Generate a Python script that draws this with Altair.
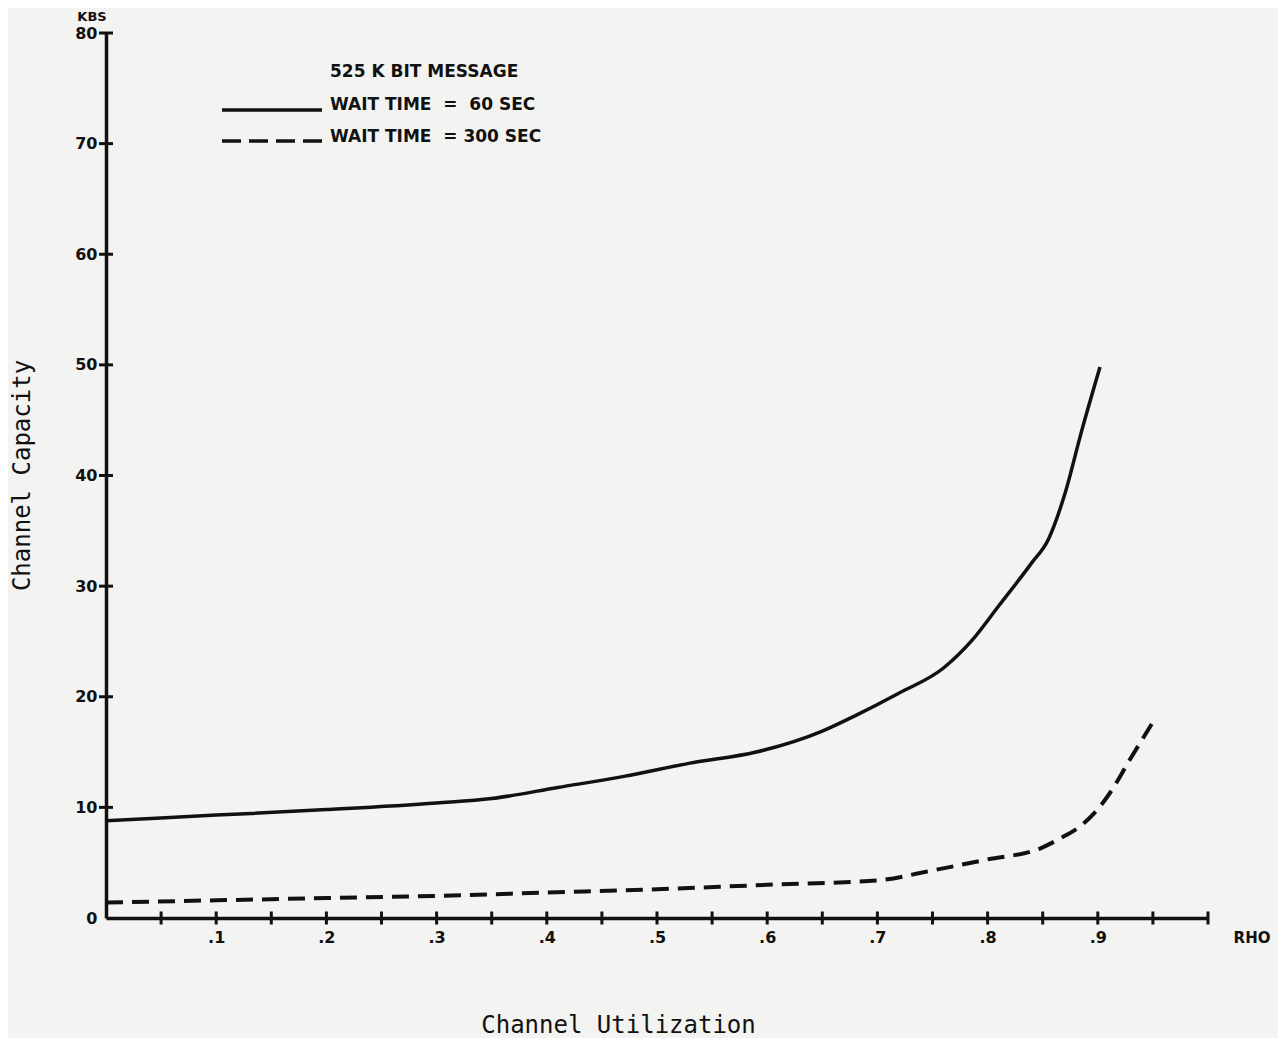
import altair as alt
import pandas as pd

# ---- data ----
rho_60 = [0, 0.1, 0.2, 0.3, 0.35, 0.41, 0.47, 0.53, 0.59, 0.65, 0.68, 0.719, 0.76, 0.785, 0.81, 0.84, 0.855, 0.87, 0.885, 0.902]
kbs_60 = [8.8, 9.3, 9.8, 10.4, 10.8, 11.8, 12.8, 14.0, 15.0, 16.9, 18.3, 20.3, 22.6, 25.0, 28.2, 32.1, 34.2, 38.3, 43.9, 49.8]

rho_300 = [0, 0.1, 0.2, 0.3, 0.4, 0.5, 0.6, 0.7, 0.75, 0.8, 0.848, 0.866, 0.884, 0.897, 0.911, 0.929, 0.95]
kbs_300 = [1.4, 1.6, 1.8, 2.0, 2.3, 2.6, 3.0, 3.4, 4.3, 5.3, 6.3, 7.2, 8.3, 9.5, 11.3, 14.3, 17.7]

x_tick_values = [0.05, 0.1, 0.15, 0.2, 0.25, 0.3, 0.35, 0.4, 0.45, 0.5, 0.55, 0.6, 0.65, 0.7, 0.75, 0.8, 0.85, 0.9, 0.95, 1.0]
x_label_values = [0.1, 0.2, 0.3, 0.4, 0.5, 0.6, 0.7, 0.8, 0.9]
y_tick_values = [10, 20, 30, 40, 50, 60, 70, 80]
y_label_values = [0, 10, 20, 30, 40, 50, 60, 70, 80]

NB = "\u00a0"
legend_title = "525 K BIT MESSAGE"
legend_labels = ["WAIT TIME" + NB * 2 + "=" + NB * 2 + "60 SEC",
                 "WAIT TIME" + NB * 2 + "=" + NB + "300 SEC"]
y_unit = "KBS"
x_unit = "RHO"
x_title = "Channel Utilization"
y_title = "Channel Capacity"

INK = "#111111"
BOLD = "DejaVu Sans"
MONO = "DejaVu Sans Mono"

df60 = pd.DataFrame({"rho": rho_60, "kbs": kbs_60})
df300 = pd.DataFrame({"rho": rho_300, "kbs": kbs_300})

xscale = alt.Scale(domain=[0, 1], nice=False, zero=False)
yscale = alt.Scale(domain=[0, 80], nice=False)

xaxis = alt.Axis(
    values=x_label_values, format=".1f", labelExpr="replace(datum.label, '0.', '.')",
    ticks=False, grid=False, domainWidth=3.5, domainColor=INK,
    labelFont=BOLD, labelFontWeight="bold", labelFontSize=16, labelColor=INK,
    labelPadding=11, labelFlush=False,
    title=x_title, titleFont=MONO, titleFontWeight="normal", titleFontSize=24,
    titleColor=INK, titleX=512, titleY=107, titleAlign="center", titleBaseline="middle",
)
yaxis = alt.Axis(
    values=y_label_values, format="d",
    ticks=False, grid=False, domainWidth=3.5, domainColor=INK,
    labelFont=BOLD, labelFontWeight="bold", labelFontSize=16, labelColor=INK,
    labelPadding=9, labelFlush=False, labelBaseline="middle",
    title=y_title, titleFont=MONO, titleFontWeight="normal", titleFontSize=24,
    titleColor=INK, titleX=-84, titleY=442, titleAngle=270, titleAlign="center",
    titleBaseline="middle",
)

line60 = alt.Chart(df60).mark_line(color=INK, strokeWidth=3.5, interpolate="monotone").encode(
    x=alt.X("rho:Q", scale=xscale, axis=xaxis),
    y=alt.Y("kbs:Q", scale=yscale, axis=yaxis),
)
line300 = alt.Chart(df300).mark_line(color=INK, strokeWidth=4, strokeDash=[17, 9], interpolate="monotone").encode(
    x=alt.X("rho:Q", scale=xscale),
    y=alt.Y("kbs:Q", scale=yscale),
)

xticks = alt.Chart(pd.DataFrame({"t": x_tick_values})).mark_tick(
    orient="vertical", size=13, thickness=3, color=INK, opacity=1
).encode(x=alt.X("t:Q", scale=xscale), y=alt.datum(0))

yticks = alt.Chart(pd.DataFrame({"t": y_tick_values})).mark_tick(
    orient="horizontal", size=14, thickness=3, color=INK, opacity=1
).encode(y=alt.Y("t:Q", scale=yscale), x=alt.datum(0))

# ---- hand-drawn style legend ----
txt = dict(font=BOLD, fontWeight="bold", fontSize=17, color=INK, align="left", baseline="middle")

leg_title = alt.Chart(pd.DataFrame({"t": [legend_title]})).mark_text(**txt).encode(
    text="t:N", x=alt.value(224), y=alt.value(39))

leg_lab60 = alt.Chart(pd.DataFrame({"t": [legend_labels[0]]})).mark_text(**txt).encode(
    text="t:N", x=alt.value(224), y=alt.value(72))

leg_lab300 = alt.Chart(pd.DataFrame({"t": [legend_labels[1]]})).mark_text(**txt).encode(
    text="t:N", x=alt.value(224), y=alt.value(104))

leg_rule60 = alt.Chart(pd.DataFrame({"t": [legend_labels[0]]})).mark_rule(
    color=INK, strokeWidth=3.5
).encode(x=alt.value(116), x2=alt.value(216), y=alt.value(77))

leg_rule300 = alt.Chart(pd.DataFrame({"t": [legend_labels[1]]})).mark_rule(
    color=INK, strokeWidth=3.5, strokeDash=[19, 8]
).encode(x=alt.value(116), x2=alt.value(216), y=alt.value(108))

unit_y = alt.Chart(pd.DataFrame({"t": [y_unit]})).mark_text(
    font=BOLD, fontWeight="bold", fontSize=13, color=INK, align="center", baseline="middle"
).encode(text="t:N", x=alt.value(-14), y=alt.value(-16))

unit_x = alt.Chart(pd.DataFrame({"t": [x_unit]})).mark_text(
    font=BOLD, fontWeight="bold", fontSize=15, color=INK, align="center", baseline="middle"
).encode(text="t:N", x=alt.value(1146), y=alt.value(20 + 885))

chart = alt.layer(
    line60, line300, xticks, yticks,
    leg_title, leg_lab60, leg_lab300, leg_rule60, leg_rule300,
    unit_y, unit_x,
).properties(
    width=1102, height=885,
    autosize=alt.AutoSizeParams(type="none"),
    padding={"left": 98, "top": 25, "right": 70, "bottom": 120},
    background="#f3f3f1",
).configure_view(stroke=None)

chart.save("out.html", embed_options={"renderer": "svg", "actions": False})
